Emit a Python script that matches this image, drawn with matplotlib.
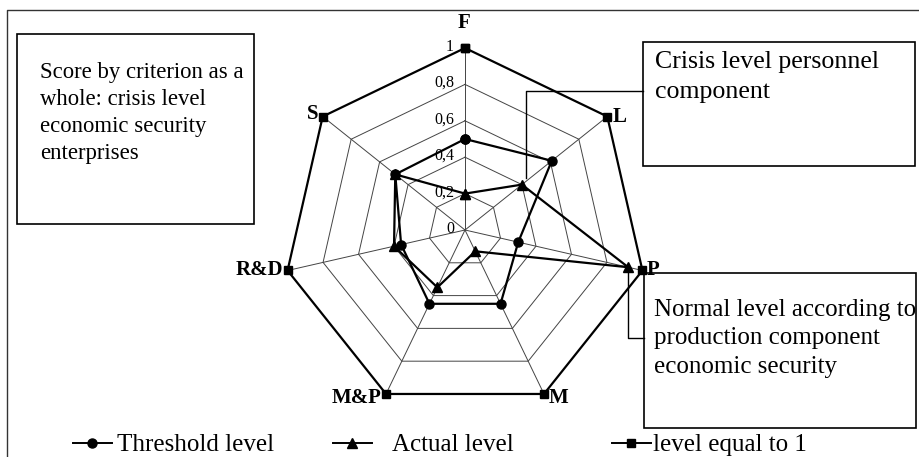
# ── 1. Packages ───────────────────────────────────────────────────────────────
import numpy as np
import matplotlib
matplotlib.use("Agg")
import matplotlib.pyplot as plt
from matplotlib.lines import Line2D
from matplotlib.patches import Rectangle

plt.rcParams["font.family"] = ["Liberation Serif", "DejaVu Serif"]

# ── 2. Data ───────────────────────────────────────────────────────────────────
criteria   = ["F", "L", "P", "M", "M&P", "R&D", "S"]
threshold  = [0.50, 0.61, 0.30, 0.45, 0.45, 0.36, 0.49]
actual     = [0.20, 0.40, 0.92, 0.13, 0.35, 0.40, 0.49]
level_one  = [1, 1, 1, 1, 1, 1, 1]
grid_lvls  = [0.2, 0.4, 0.6, 0.8]
tick_vals  = [0, 0.2, 0.4, 0.6, 0.8, 1]
tick_lbls  = ["0", "0,2", "0,4", "0,6", "0,8", "1"]
series_lbl = ["Threshold level", "Actual level", "level equal to 1"]

box_texts = [
    "Score by criterion as a\nwhole: crisis level\neconomic security\nenterprises",
    "Crisis level personnel\ncomponent",
    "Normal level according to\nproduction component\neconomic security",
]

# ── 3. Figure & polar axes ────────────────────────────────────────────────────
W, H = 919, 457
fig = plt.figure(figsize=(W / 100, H / 100), dpi=100)

cx, cy, R = 465, 230, 182          # centre / radius in pixels (from top)
ax = fig.add_axes([(cx - R) / W, (H - cy - R) / H, 2 * R / W, 2 * R / H],
                  projection="polar")
ax.set_theta_offset(np.pi / 2)
ax.set_theta_direction(-1)
ax.set_ylim(0, 1)
ax.grid(False)
ax.spines["polar"].set_visible(False)
ax.set_xticks([])
ax.set_yticks([])
ax.patch.set_alpha(0)

n = len(criteria)
angles = np.linspace(0, 2 * np.pi, n, endpoint=False)
ang_c = np.append(angles, angles[0])

def closed(v):
    return np.append(v, v[0])

# grid polygons and spokes
for g in grid_lvls:
    ax.plot(ang_c, [g] * (n + 1), color="#444444", lw=0.7, zorder=1)
for a in angles:
    ax.plot([a, a], [0, 1], color="#444444", lw=0.7, zorder=1)

ax.plot(ang_c, closed(level_one), color="black", lw=1.6, marker="s",
        ms=5.5, zorder=3, clip_on=False)
ax.plot(ang_c, closed(threshold), color="black", lw=1.6, marker="o",
        ms=6.5, zorder=4, clip_on=False)
ax.plot(ang_c, closed(actual), color="black", lw=1.6, marker="^",
        ms=6.5, zorder=5, clip_on=False)

# radial tick labels along F axis
for v, t in zip(tick_vals, tick_lbls):
    ax.annotate(t, (0, v), xytext=(-8, 1), textcoords="offset points",
                ha="right", va="center", fontsize=11.5, zorder=6,
                annotation_clip=False)

# criterion labels
lbl_off = {"F": (-1, 11, "center", "bottom"), "L": (4, 0, "left", "center"),
           "P": (3, 0, "left", "center"), "M": (3, -3, "left", "center"),
           "M&P": (-3, -3, "right", "center"), "R&D": (-3, 0, "right", "center"),
           "S": (-3, 2, "right", "center")}
for a, c in zip(angles, criteria):
    dx, dy, ha, va = lbl_off[c]
    ax.annotate(c, (a, 1), xytext=(dx, dy), textcoords="offset points",
                ha=ha, va=va, fontsize=15, fontweight="bold",
                annotation_clip=False)

# ── 4. Text boxes & connectors (pixel layout) ────────────────────────────────
def fx(x): return x / W
def fy(y): return 1 - y / H

def box(x0, y0, x1, y1):
    fig.patches.append(Rectangle((fx(x0), fy(y1)), fx(x1 - x0), (y1 - y0) / H,
                                 transform=fig.transFigure, fill=False,
                                 ec="black", lw=1.2))

# outer frame: top and left edges only
fig.lines.append(Line2D([fx(7), fx(7), fx(919)], [fy(457), fy(10), fy(10)],
                        transform=fig.transFigure, color="#333333", lw=1.0))

box(17, 34, 254, 224)
fig.text(fx(40), fy(62), box_texts[0], ha="left", va="top", fontsize=16.4,
         linespacing=1.37)

box(643, 42, 915, 166)
fig.text(fx(655), fy(51), box_texts[1], ha="left", va="top", fontsize=18.6,
         linespacing=1.45)
fig.lines.append(Line2D([fx(643), fx(526), fx(526)], [fy(91), fy(91), fy(178)],
                        transform=fig.transFigure, color="black", lw=1.0))

box(644, 273, 916, 428)
fig.text(fx(654), fy(299), box_texts[2], ha="left", va="top", fontsize=18,
         linespacing=1.38)
fig.lines.append(Line2D([fx(628), fx(628), fx(644)], [fy(270), fy(338), fy(338)],
                        transform=fig.transFigure, color="black", lw=1.0))

# ── 5. Legend (three separate entries) ───────────────────────────────────────
entries = [("o", 73, 0.2), ("^", 333, 0.8), ("s", 612, 0.1)]
for (mk, x, pad), lab in zip(entries, series_lbl):
    h = Line2D([], [], color="black", lw=1.4, marker=mk,
               ms=6.5 if mk != "s" else 5.5)
    fig.legend([h], [lab], loc="center left", bbox_to_anchor=(fx(x), fy(445)),
               frameon=False, fontsize=18, handlelength=1.55,
               handletextpad=pad, borderaxespad=0, borderpad=0)

fig.savefig("out.png", dpi=100)
